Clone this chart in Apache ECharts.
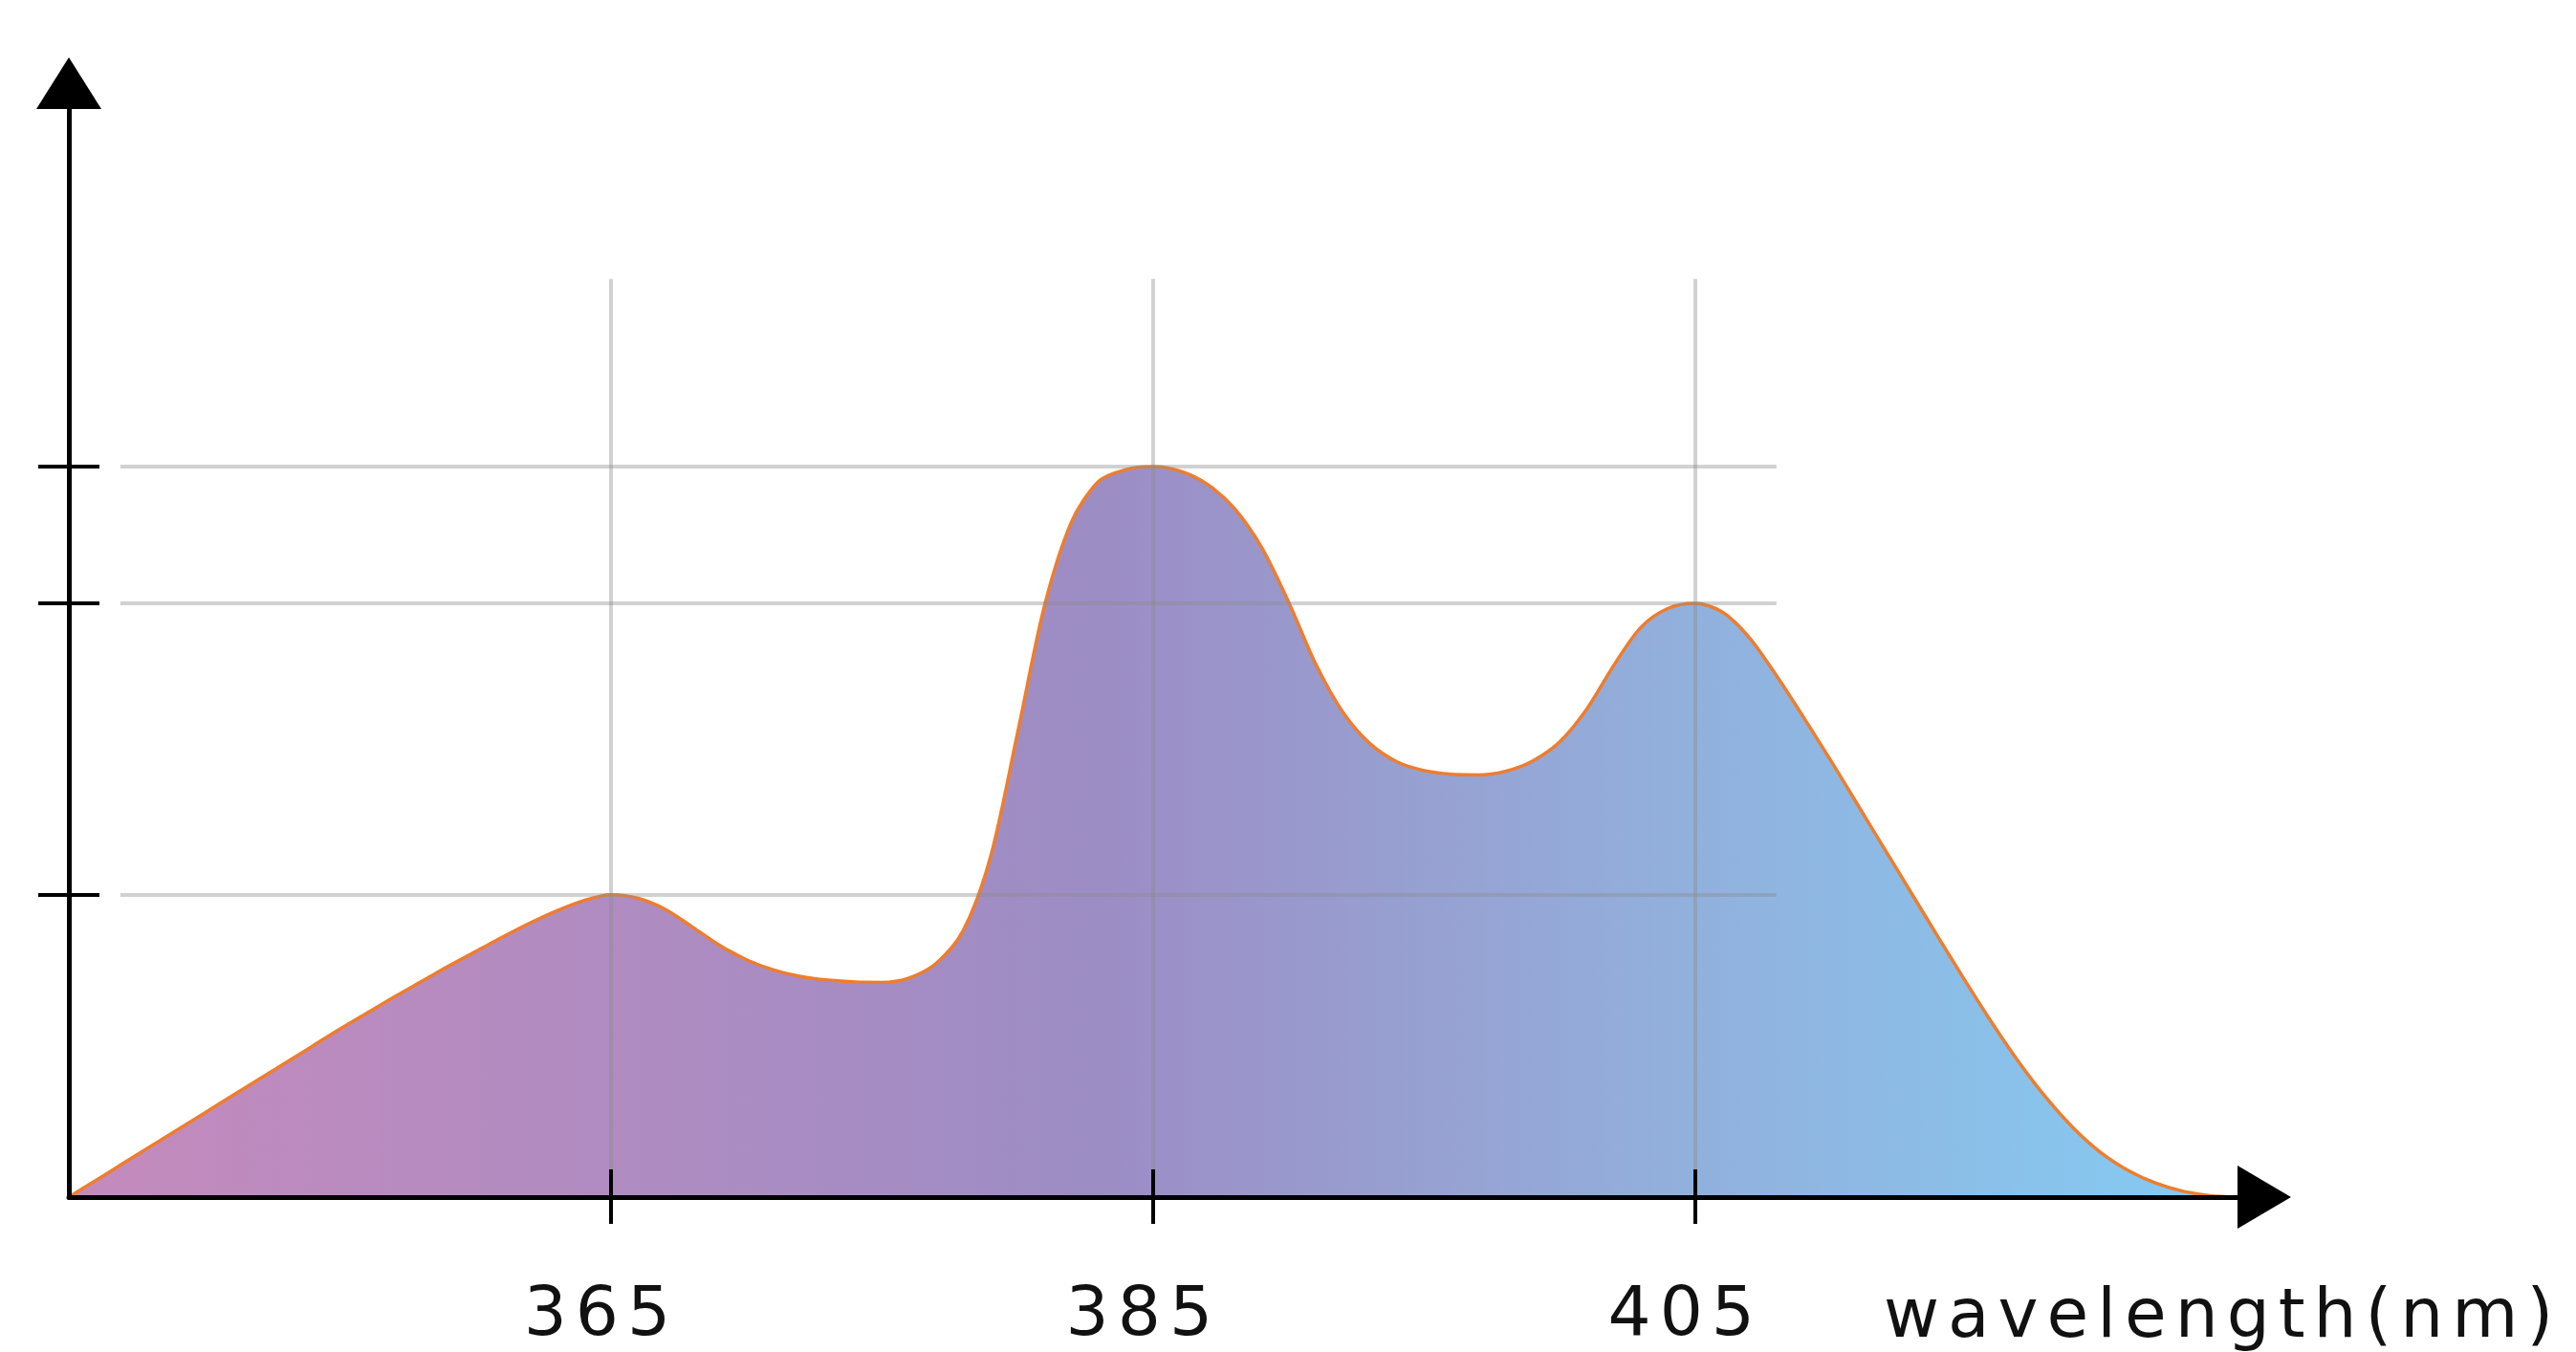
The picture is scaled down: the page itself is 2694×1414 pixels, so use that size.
<!DOCTYPE html>
<html>
<head>
<meta charset="utf-8">
<script src="https://cdn.jsdelivr.net/npm/echarts@6/dist/echarts.min.js"></script>
<style>
  html, body { margin: 0; padding: 0; background: #fff; }
  #chart { width: 2694px; height: 1414px; }
  #chart svg text { letter-spacing: 9px; }
  #chart svg text[text-anchor="middle"] { letter-spacing: 9px; }
</style>
</head>
<body>
<div id="chart"></div>
<script>
// Wavelength samples (nm), one per nm from 345 to 425
const wavelengths = [
  345, 346, 347, 348, 349, 350, 351, 352, 353, 354,
  355, 356, 357, 358, 359, 360, 361, 362, 363, 364,
  365, 366, 367, 368, 369, 370, 371, 372, 373, 374,
  375, 376, 377, 378, 379, 380, 381, 382, 383, 384,
  385, 386, 387, 388, 389, 390, 391, 392, 393, 394,
  395, 396, 397, 398, 399, 400, 401, 402, 403, 404,
  405, 406, 407, 408, 409, 410, 411, 412, 413, 414,
  415, 416, 417, 418, 419, 420, 421, 422, 423, 424,
  425
];
// Relative intensity (peak at 385 nm = 100)
const intensity = [
  0, 2.3, 4.6, 6.9, 9.2, 11.5, 13.8, 16.1, 18.4, 20.7,
  23.0, 25.2, 27.4, 29.5, 31.6, 33.6, 35.6, 37.5, 39.2, 40.6,
  41.4, 40.9, 39.4, 37.0, 34.5, 32.5, 31.1, 30.2, 29.7, 29.45,
  29.4, 30.0, 32.0, 36.5, 46.5, 63.5, 81.0, 92.5, 98.0, 99.6,
  100, 99.4, 97.6, 94.3, 89.0, 81.5, 73.0, 66.4, 62.1, 59.6,
  58.4, 57.9, 57.8, 58.3, 59.7, 62.3, 66.8, 72.8, 78.0, 80.6,
  81.3, 80.1, 76.6, 71.4, 65.7, 59.8, 53.7, 47.6, 41.5, 35.4,
  29.4, 23.6, 18.2, 13.4, 9.3, 6.0, 3.6, 1.9, 0.8, 0.2,
  0
];
const xTicks = [365, 385, 405];
const yTicks = [41.4, 81.3, 100];
const xLabels = ['365', '385', '405'];
const xName = 'wavelength(nm)';

const X_MIN = 345, X_MAX = 426, Y_MIN = 0, Y_MAX = 152.5;
const GRID_V_TOP = 125.7;      // top of vertical grid lines (value units)
const GRID_H_START = 346.9;    // start of horizontal grid lines (nm)
const GRID_H_END = 408.0;      // end of horizontal grid lines (nm)

const seriesData = wavelengths.map((w, i) => [w, intensity[i]]);

const gridLines = [];
xTicks.forEach(x => gridLines.push([{ coord: [x, 0] }, { coord: [x, GRID_V_TOP] }]));
yTicks.forEach(y => gridLines.push([{ coord: [GRID_H_START, y] }, { coord: [GRID_H_END, y] }]));

const FONT = '"DejaVu Sans", "Noto Sans", sans-serif';
const axisColor = '#000';

const chart = echarts.init(document.getElementById('chart'), null, { renderer: 'svg' });
chart.setOption({
  animation: false,
  backgroundColor: '#fff',
  grid: { left: 72, right: 326, top: 87, bottom: 162, containLabel: false },
  xAxis: [
    {
      type: 'value', min: X_MIN, max: X_MAX, position: 'bottom', z: 5,
      axisLine: { show: true, symbol: ['none', 'triangle'], symbolSize: [66, 56],
        lineStyle: { color: axisColor, width: 5 } },
      axisTick: { show: true, inside: true, length: 29, customValues: xTicks,
        lineStyle: { color: axisColor, width: 4 } },
      axisLabel: { show: true, customValues: xTicks, margin: 84, fontSize: 71,
        color: '#111', fontFamily: FONT, padding: [0, 20, 0, 0],
        formatter: v => xLabels[xTicks.indexOf(v)] ?? String(v) },
      splitLine: { show: false }
    },
    {
      type: 'value', min: X_MIN, max: X_MAX, position: 'bottom', offset: 0, z: 5,
      axisLine: { show: false },
      axisTick: { show: true, inside: false, length: 28, customValues: xTicks,
        lineStyle: { color: axisColor, width: 4 } },
      axisLabel: { show: false },
      splitLine: { show: false }
    }
  ],
  yAxis: [
    {
      type: 'value', min: Y_MIN, max: Y_MAX, position: 'left', z: 5,
      axisLine: { show: true, symbol: ['none', 'triangle'], symbolSize: [68, 54],
        lineStyle: { color: axisColor, width: 5 } },
      axisTick: { show: true, inside: true, length: 32, customValues: yTicks,
        lineStyle: { color: axisColor, width: 4 } },
      axisLabel: { show: false },
      splitLine: { show: false }
    },
    {
      type: 'value', min: Y_MIN, max: Y_MAX, position: 'left', offset: 0, z: 5,
      axisLine: { show: false },
      axisTick: { show: true, inside: false, length: 32, customValues: yTicks,
        lineStyle: { color: axisColor, width: 4 } },
      axisLabel: { show: false },
      splitLine: { show: false }
    }
  ],
  series: [
    {
      type: 'line',
      xAxisIndex: 0, yAxisIndex: 0,
      data: seriesData,
      smooth: 0.3,
      showSymbol: false,
      lineStyle: { color: '#EE7D2E', width: 3.5 },
      areaStyle: {
        opacity: 1,
        color: new echarts.graphic.LinearGradient(0, 0, 1, 0, [
          { offset: 0, color: '#C58ABD' },
          { offset: 0.48, color: '#9C8DC5' },
          { offset: 0.72, color: '#93ADDA' },
          { offset: 0.94, color: '#87C6EE' },
          { offset: 1, color: '#86CAF0' }
        ])
      },
      markLine: {
        silent: true,
        symbol: ['none', 'none'],
        label: { show: false },
        lineStyle: { color: 'rgba(140,140,140,0.4)', width: 4, type: 'solid' },
        data: gridLines
      }
    }
  ],
  graphic: [
    {
      type: 'text', left: 1970, top: 1338,
      style: { text: xName, fontSize: 71, fontFamily: FONT, fill: '#111' }
    }
  ]
});
</script>
</body>
</html>
